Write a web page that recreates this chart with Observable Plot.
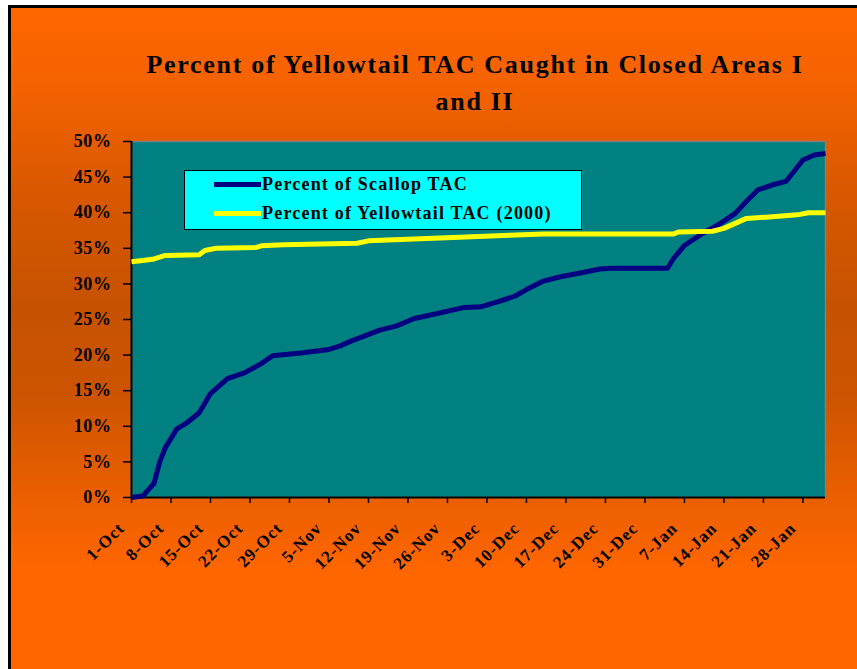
<!DOCTYPE html>
<html><head><meta charset="utf-8">
<script src="https://cdn.jsdelivr.net/npm/d3@7"></script>
<script src="https://cdn.jsdelivr.net/npm/@observablehq/plot@0.6"></script>
<style>
html,body{margin:0;padding:0;background:#fff;width:857px;height:669px;overflow:hidden;}
#wrap{position:absolute;left:8px;top:5px;width:849px;height:664px;border-top:3px solid #000;border-left:3px solid #000;
 background:linear-gradient(to bottom,#ff6600 0%,#f46200 12%,#d85800 28%,#c65200 45%,#cc5400 58%,#e85e00 72%,#ff6600 85%,#ff6600 100%);}
#chart{position:absolute;left:0;top:0;}
#title{position:absolute;left:95px;width:760px;top:46px;text-align:center;font-family:"Liberation Serif",serif;font-weight:bold;font-size:26px;line-height:37px;color:#000;letter-spacing:1.7px;}
#legend{position:absolute;left:184px;top:170px;width:396px;height:58px;background:#00ffff;border:1.5px solid #000;font-family:"Liberation Serif",serif;font-weight:bold;font-size:18px;letter-spacing:1.2px;color:#000;}
.row{position:absolute;left:29px;height:20px;display:flex;align-items:center;}
.sw{width:47px;height:5px;margin-right:1px;}
#chart g[aria-label="x-axis tick label"] text{letter-spacing:1px;}
#chart g[aria-label="y-axis tick label"] text{letter-spacing:0.6px;}
</style>
</head><body>
<div id="wrap"></div>
<div id="chart"></div>
<div id="title">Percent of Yellowtail TAC Caught in Closed Areas I<br>and II</div>
<div id="legend">
 <div class="row" style="top:3px"><div class="sw" style="background:#000080"></div><span>Percent of Scallop TAC</span></div>
 <div class="row" style="top:32px"><div class="sw" style="background:#ffff00"></div><span>Percent of Yellowtail TAC (2000)</span></div>
</div>
<script>
const scallopDates = ["2000-10-01","2000-10-03","2000-10-05","2000-10-06","2000-10-07","2000-10-09","2000-10-11","2000-10-13","2000-10-15","2000-10-18","2000-10-21","2000-10-24","2000-10-26","2000-10-31","2000-11-05","2000-11-07","2000-11-09","2000-11-11","2000-11-14","2000-11-17","2000-11-20","2000-11-24","2000-11-29","2000-12-02","2000-12-05","2000-12-08","2000-12-10","2000-12-13","2000-12-16","2000-12-20","2000-12-23","2000-12-25","2001-01-04","2001-01-05","2001-01-07","2001-01-10","2001-01-13","2001-01-16","2001-01-18","2001-01-20","2001-01-23","2001-01-25","2001-01-26","2001-01-28","2001-01-30","2001-02-01"];
const scallopValues = [0,0.2,2.0,5.0,7.0,9.6,10.6,11.9,14.6,16.7,17.5,18.8,19.9,20.3,20.8,21.3,22.0,22.6,23.5,24.1,25.1,25.8,26.7,26.8,27.5,28.3,29.2,30.4,31.0,31.6,32.1,32.2,32.2,33.5,35.4,37.0,38.3,39.9,41.6,43.2,44.0,44.4,45.4,47.4,48.1,48.3];
const yellowDates = ["2000-10-01","2000-10-03","2000-10-05","2000-10-07","2000-10-13","2000-10-14","2000-10-16","2000-10-23","2000-10-24","2000-10-28","2000-11-10","2000-11-12","2000-11-20","2000-11-27","2000-12-07","2000-12-13","2001-01-05","2001-01-06","2001-01-12","2001-01-14","2001-01-16","2001-01-18","2001-01-22","2001-01-27","2001-01-29","2001-02-01"];
const yellowValues = [33.1,33.3,33.5,34.0,34.1,34.7,35.0,35.1,35.35,35.5,35.7,36.05,36.3,36.5,36.85,37.0,37.0,37.3,37.4,37.8,38.5,39.2,39.4,39.7,40.0,40.0];
const xTickLabels = ["1-Oct","8-Oct","15-Oct","22-Oct","29-Oct","5-Nov","12-Nov","19-Nov","26-Nov","3-Dec","10-Dec","17-Dec","24-Dec","31-Dec","7-Jan","14-Jan","21-Jan","28-Jan"];
const yTicks = [0,5,10,15,20,25,30,35,40,45,50];
const seriesNames = ["Percent of Scallop TAC","Percent of Yellowtail TAC (2000)"];

const parse = d3.utcParse("%Y-%m-%d");
const scallop = scallopDates.map((d,i)=>({date:parse(d),value:scallopValues[i]}));
const yellow = yellowDates.map((d,i)=>({date:parse(d),value:yellowValues[i]}));
const start = parse("2000-10-01"), end = parse("2001-02-01");
const xTicks = xTickLabels.map((_,i)=>d3.utcDay.offset(start,7*i));

const chart = Plot.plot({
  width:857, height:669,
  marginLeft:131, marginRight:32, marginTop:141, marginBottom:172,
  style:{background:"transparent",fontFamily:"Liberation Serif, serif",fontWeight:"bold",color:"#000",overflow:"visible"},
  x:{type:"utc",domain:[start,end]},
  y:{domain:[0,50]},
  marks:[
    Plot.frame({fill:"#008080",stroke:"#808080",strokeWidth:1.5}),
    Plot.axisY({ticks:yTicks,tickFormat:d=>d+"%",tickSize:8,tickPadding:12,label:null,fontSize:18,stroke:"#000",strokeWidth:1.5}),
    Plot.axisX({ticks:xTicks,text:null,tickSize:6,label:null,stroke:"#000",strokeWidth:1.5}),
    Plot.axisX({ticks:xTicks,tickFormat:(d,i)=>xTickLabels[i],tickSize:0,tickPadding:28,dx:-10,tickRotate:-45,label:null,fontSize:17}),
    Plot.ruleY([0],{stroke:"#000",strokeWidth:2}),
    Plot.ruleX([start],{stroke:"#000",strokeWidth:2}),
    Plot.line(scallop,{x:"date",y:"value",stroke:"#000080",strokeWidth:5,strokeLinecap:"butt"}),
    Plot.line(yellow,{x:"date",y:"value",stroke:"#ffff00",strokeWidth:5,strokeLinecap:"butt"})
  ]
});
document.getElementById("chart").appendChild(chart);
</script>
</body></html>
